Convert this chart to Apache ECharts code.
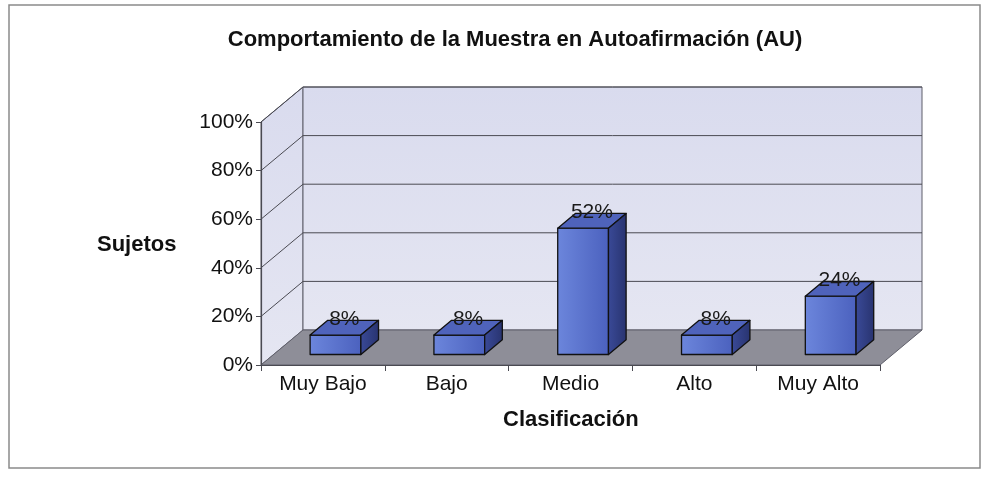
<!DOCTYPE html>
<html>
<head>
<meta charset="utf-8">
<script src="https://cdn.jsdelivr.net/npm/echarts@6/dist/echarts.min.js"></script>
<style>
  html, body { margin: 0; padding: 0; background: #fff; }
  #chart { width: 984px; height: 481px; }
</style>
</head>
<body>
<div id="chart"></div>
<script>
// data
const categories = ['Muy Bajo', 'Bajo', 'Medio', 'Alto', 'Muy Alto'];
const percents = [8, 8, 52, 8, 24];
const yTicks = [0, 20, 40, 60, 80, 100];

// depth of the 3d box (pixels)
const DX = 42, DY = -35;
const FONT = 'Arial, "Liberation Sans", sans-serif';

const myChart = echarts.init(document.getElementById('chart'));

function renderWalls(params, api) {
    const cs = params.coordSys;
    const x = cs.x, y = cs.y, w = cs.width, h = cs.height;
    const children = [];
    const wallFill = new echarts.graphic.LinearGradient(0, 0, 0, 1, [
        { offset: 0, color: '#d9dbee' },
        { offset: 1, color: '#e5e6f2' }
    ]);
    // side wall
    children.push({
        type: 'polygon',
        shape: { points: [[x, y], [x + DX, y + DY], [x + DX, y + h + DY], [x, y + h]] },
        style: { fill: wallFill, stroke: '#5f5f6a', lineWidth: 1 }
    });
    // back wall
    children.push({
        type: 'polygon',
        shape: { points: [[x + DX, y + DY], [x + w + DX, y + DY], [x + w + DX, y + h + DY], [x + DX, y + h + DY]] },
        style: { fill: wallFill, stroke: '#5f5f6a', lineWidth: 1 }
    });
    // floor
    children.push({
        type: 'polygon',
        shape: { points: [[x, y + h], [x + w, y + h], [x + w + DX, y + h + DY], [x + DX, y + h + DY]] },
        style: { fill: '#8e8e98', stroke: '#5f5f6a', lineWidth: 1 }
    });
    // grid lines
    yTicks.forEach(function (v) {
        if (v === 0) return;
        const yy = api.coord([0, v])[1];
        children.push({
            type: 'polyline',
            shape: { points: [[x, yy], [x + DX, yy + DY], [x + w + DX, yy + DY]] },
            style: { stroke: '#4a4a52', lineWidth: 1, fill: null }
        });
    });
    return { type: 'group', children: children };
}

function renderBar(params, api) {
    const i = api.value(0);
    const v = api.value(1);
    const top = api.coord([i, v]);
    const base = api.coord([i, 0]);
    const band = api.size([1, 0])[0];
    const bw = band * 0.41;
    const ox = DX * 0.3, oy = DY * 0.3;
    const dx = DX * 0.42, dy = DY * 0.42;
    const fx = top[0] - bw / 2 + ox;
    const ty = top[1] + oy;
    const by = base[1] + oy;
    const outline = { stroke: '#111', lineWidth: 1.3, lineJoin: 'round' };
    return {
        type: 'group',
        children: [
            {
                type: 'rect',
                shape: { x: fx, y: ty, width: bw, height: by - ty },
                style: Object.assign({
                    fill: new echarts.graphic.LinearGradient(0, 0, 1, 0, [
                        { offset: 0, color: '#6c86dc' },
                        { offset: 1, color: '#4b61be' }
                    ])
                }, outline)
            },
            {
                type: 'polygon',
                shape: { points: [[fx, ty], [fx + bw, ty], [fx + bw + dx, ty + dy], [fx + dx, ty + dy]] },
                style: Object.assign({ fill: '#4f63bb' }, outline)
            },
            {
                type: 'polygon',
                shape: { points: [[fx + bw, ty], [fx + bw + dx, ty + dy], [fx + bw + dx, by + dy], [fx + bw, by]] },
                style: Object.assign({
                    fill: new echarts.graphic.LinearGradient(0, 0, 1, 0, [
                        { offset: 0, color: '#3a4a98' },
                        { offset: 1, color: '#28336f' }
                    ])
                }, outline)
            },
            {
                type: 'text',
                style: {
                    x: fx + bw / 2 + dx / 2,
                    y: ty + dy / 2 + 2,
                    text: v + '%',
                    fill: '#1a1a1a',
                    font: '21px ' + FONT,
                    align: 'center',
                    verticalAlign: 'bottom'
                }
            }
        ]
    };
}

const option = {
    backgroundColor: '#ffffff',
    animation: false,
    title: {
        text: 'Comportamiento de la Muestra en Autoafirmación (AU)',
        left: 510,
        top: 24,
        textAlign: 'center',
        textStyle: { fontFamily: FONT, fontSize: 22, fontWeight: 'bold', color: '#111' }
    },
    graphic: [
        {
            type: 'rect',
            shape: { x: 9, y: 5, width: 971, height: 463 },
            style: { fill: null, stroke: '#8a8a8a', lineWidth: 1.5 },
            z: -10
        },
        {
            type: 'text',
            left: 97,
            top: 234,
            style: { text: 'Sujetos', font: 'bold 22px ' + FONT, fill: '#111' }
        },
        {
            type: 'text',
            left: 503,
            top: 409,
            style: { text: 'Clasificación', font: 'bold 22px ' + FONT, fill: '#111' }
        }
    ],
    grid: { left: 261, right: 104, top: 122, bottom: 116 },
    xAxis: {
        type: 'category',
        data: categories,
        axisLine: { show: true, lineStyle: { color: '#4a4a52', width: 1.2 } },
        axisTick: { show: true, length: 6, lineStyle: { color: '#4a4a52' } },
        axisLabel: { color: '#111', fontFamily: FONT, fontSize: 21, margin: 9 },
        z: 10
    },
    yAxis: {
        type: 'value',
        min: 0,
        max: 100,
        interval: 20,
        axisLine: { show: true, lineStyle: { color: '#4a4a52', width: 1.2 } },
        axisTick: { show: true, length: 5, lineStyle: { color: '#4a4a52' } },
        axisLabel: { color: '#111', fontFamily: FONT, fontSize: 21, margin: 8, formatter: '{value}%' },
        splitLine: { show: false },
        z: 10
    },
    series: [
        {
            type: 'custom',
            renderItem: renderWalls,
            data: [[0, 0]],
            z: 1,
            silent: true
        },
        {
            type: 'custom',
            renderItem: renderBar,
            encode: { x: 0, y: 1 },
            data: categories.map(function (c, i) { return [i, percents[i]]; }),
            z: 5
        }
    ]
};

myChart.setOption(option);
window.addEventListener('resize', () => {
    myChart.resize();
});
</script>
</body>
</html>
